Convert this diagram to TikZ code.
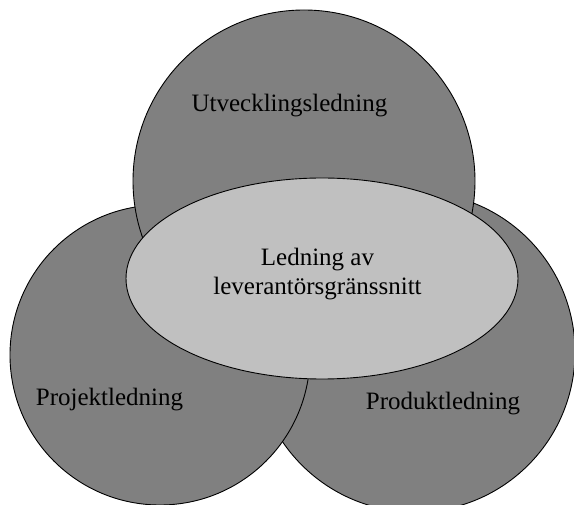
\documentclass[tikz,border=0pt]{standalone}
\usepackage{fontspec}
\setmainfont{Liberation Serif}
\usetikzlibrary{shapes.geometric}
\definecolor{areagray}{HTML}{808080}
\definecolor{coregray}{HTML}{C0C0C0}
\begin{document}
\begin{tikzpicture}[x=1pt,y=-1pt,
  area/.style={circle, draw=black, line width=0.9pt, fill=areagray, inner sep=0pt},
  core/.style={ellipse, draw=black, line width=0.9pt, fill=coregray, inner sep=0pt},
  label/.style={font=\fontsize{25}{29}\selectfont, inner sep=0pt, text=black}]
\useasboundingbox (0,0) rectangle (574,505);
\clip (0,0) rectangle (574,505);
% the three management areas, back to front
\node[area, minimum size=320pt] (prod) at (415,352) {};
\node[area, minimum size=300pt] (proj) at (160,355) {};
\node[area, minimum size=342pt] (dev) at (304,181) {};
% shared core in the middle
\node[core, minimum width=392pt, minimum height=201pt] (iface) at (322,278.5) {};
% labels
\node[label, anchor=base] (devtext) at (289.5,112) {Utvecklingsledning};
\node[label, anchor=base] (projtext) at (109.5,406) {Projektledning};
\node[label, anchor=base] (prodtext) at (443,410) {Produktledning};
\node[label, anchor=base] (ifacetext1) at (317.5,266) {Ledning av};
\node[label, anchor=base] (ifacetext2) at (317.5,295) {leverantörsgränssnitt};
\end{tikzpicture}
\end{document}
